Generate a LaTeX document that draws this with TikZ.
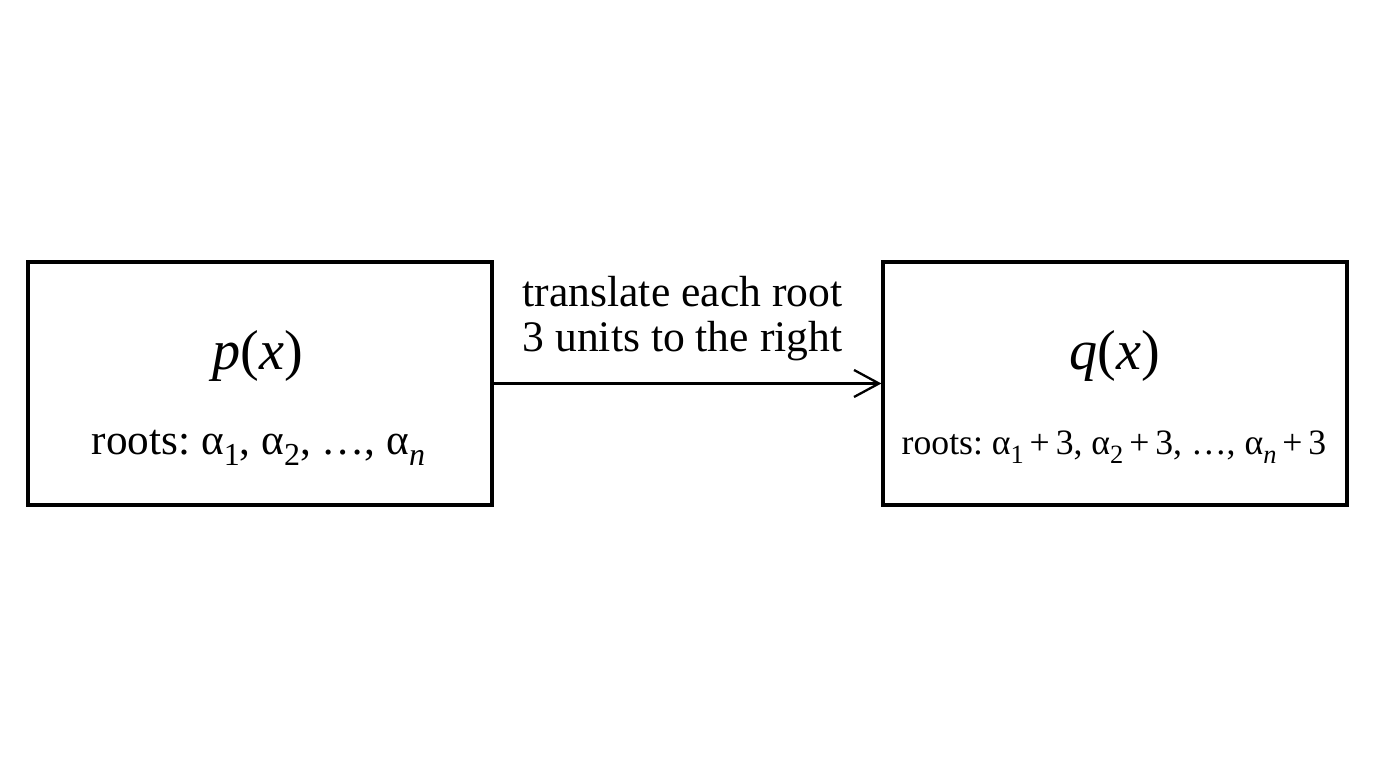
\documentclass[tikz,border=0pt]{standalone}
\usepackage{fontspec}
\setmainfont{Liberation Serif}
\usepackage{tikz}
\usetikzlibrary{arrows.meta,positioning}
\frenchspacing
\tikzset{
  polybox/.style={draw=black, line width=1.8pt, minimum width=9.28cm, minimum height=4.86cm, inner sep=0pt},
  funclabel/.style={anchor=base, inner sep=0pt, font=\fontsize{32}{34}\selectfont},
  rootlabel/.style={anchor=base, inner sep=0pt, font=\fontsize{24.6}{26}\selectfont},
  smallroot/.style={anchor=base, inner sep=0pt, font=\fontsize{20.3}{22}\selectfont},
  steplabel/.style={anchor=south, inner sep=0pt, align=center, font=\fontsize{24.8}{25.6}\selectfont},
  arrow/.style={-{Straight Barb[length=5mm, width=5.4mm, line width=1.3pt]}, line width=1.3pt, draw=black}
}
\newcommand{\rt}[1]{α\raisebox{-0.24em}{\scalebox{0.74}{#1}}}

\begin{document}
\begin{tikzpicture}
  \useasboundingbox (0,0) rectangle (27.52,15.36);
  % the two polynomials
  \node[polybox] (pbox) at (5.2,7.69) {};
  \node[polybox] (qbox) at (22.3,7.69) {};
  \node[funclabel] (pfun) at (5.16,7.96) {\textit{p}(\textit{x})};
  \node[rootlabel] (proots) at (5.17,6.26) {roots: \rt{1}, \rt{2}, …, \rt{\textit{n}}};
  \node[funclabel] (qfun) at (22.29,7.96) {\textit{q}(\textit{x})};
  \node[smallroot] (qroots) at (22.28,6.26) {roots: \rt{1}\,+\,3, \rt{2}\,+\,3, …, \rt{\textit{n}}\,+\,3};

  % the shift
  \draw[arrow] (pbox.east) -- (qbox.west);
  \node[steplabel] (shift) at (13.65,8.13) {translate each root\\3 units to the right};
\end{tikzpicture}
\end{document}
